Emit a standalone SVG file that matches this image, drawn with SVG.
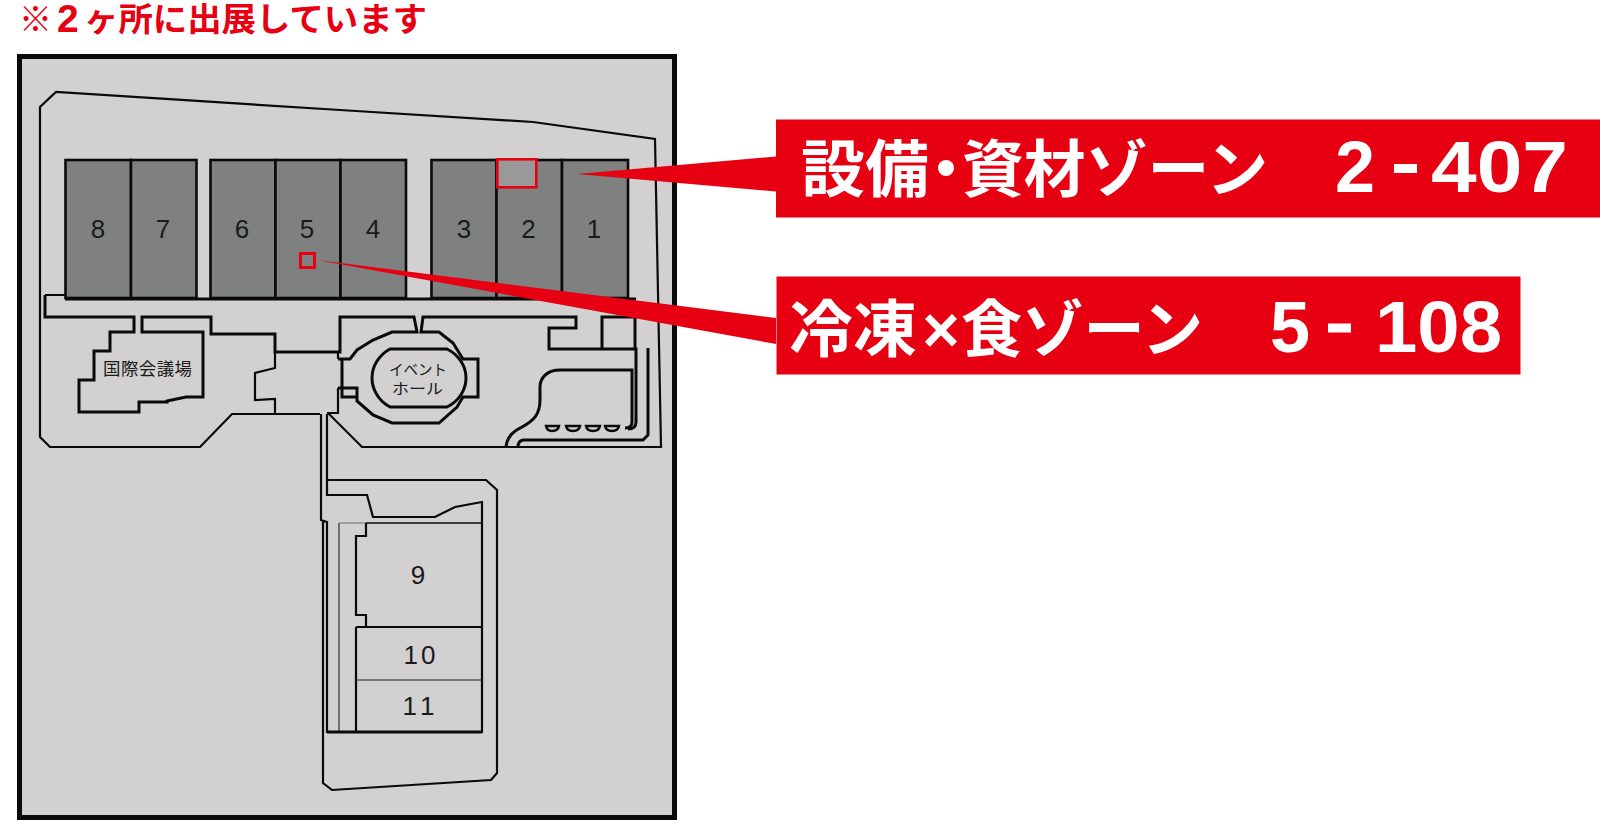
<svg xmlns="http://www.w3.org/2000/svg" width="1600" height="840" viewBox="0 0 1600 840">
<style>
.l{fill:none;stroke:#0a0a0a;stroke-width:2.2;stroke-linejoin:miter}
.t{stroke-width:1.6}
.h{stroke-width:3}
.hall{fill:#7f8180;stroke:#0a0a0a;stroke-width:2.6}
.n{font-family:"Liberation Sans",Arial,sans-serif;font-size:26px;fill:#1a1a1a;text-anchor:middle}
.j{font-family:"Noto Sans CJK JP",sans-serif;fill:#1a1a1a}
.red{fill:#e60012}
.w{font-family:"Noto Sans CJK JP",sans-serif;font-weight:700;font-size:62px;fill:#fff}
.d{font-family:"Liberation Sans",Arial,sans-serif;font-weight:700;font-size:72px;fill:#fff}
.ti{font-family:"Noto Sans CJK JP",sans-serif;font-weight:700;font-size:33px;fill:#e60012}
</style>
<rect width="1600" height="840" fill="#fff"/>
<g id="note">
<text class="ti" x="19" y="31">※</text>
<text x="57" y="32" font-family="'Liberation Sans',sans-serif" font-weight="700" font-size="39" fill="#e60012">2</text>
<text class="ti" x="84" y="31" textLength="343" lengthAdjust="spacingAndGlyphs">ヶ所に出展しています</text>
</g>
<rect id="frame" x="19.5" y="56.5" width="655" height="761" fill="#d2d0d1" stroke="#0a0a0a" stroke-width="5"/>
<g id="site">
<path class="l" d="M323 521V783L332 790L491 780L497 773V490L486 480H327M327 414V495H367L373 517H435L455 507L482 502V732H327V522L321 520V414"/>
<path class="l" d="M320 414H232L200 447H50L40 437V107L56 92L340 110L533 122L655 139L661 447H362L328 413"/>
<path class="l h" d="M45 295V317H134V332H110V351H94V380H79V412H139V402H167V401L186 397H203V332H142V317H211V334H275V352H340V317H414L417 332H392L373 340L357 350L350 359H338"/>
<path class="l" d="M338 352V359M338 388V413H327M275 352V368L255 373V400L275 399V414"/>
<path class="l h" d="M342 359V397H357M338 388H357V401L373 415L392 423H439L457 407L463 397H478V359H463L453 343L439 332H421L423 317H576V328H549V349H636V422Q636 429 628 429"/>
<path class="l h" d="M602 349V317H635V349"/>
<path class="l" d="M45 295H65M628 299H636"/>
<path class="l h" d="M506 447C507 436 514 431 522 427C533 421 540 415 540 400V387C540 377 548 370 560 370H632V422Q632 428 625 428M648 348V435L643 440H523Q518 441 518 447"/>
<path class="l h" d="M390 349H447C459 355 466 366 466 378C466 390 459 401 447 407H390C379 401 372 390 372 378C372 366 379 355 390 349Z"/>
<g fill="none" stroke="#0a0a0a" stroke-width="2.4"><path d="M546 426H559Q558 431 552 431Q547 431 546 426ZM566 426H580Q579 431 573 431Q567 431 566 426ZM586 426H600Q599 431 593 431Q587 431 586 426ZM605 426H619Q618 431 612 431Q606 431 605 426Z"/></g>
</g>
<g id="halls-1-8">
<rect class="hall" x="65.5" y="160" width="65.5" height="138"/>
<rect class="hall" x="131" y="160" width="65.5" height="138"/>
<rect class="hall" x="210.5" y="160" width="65" height="138"/>
<rect class="hall" x="275.5" y="160" width="65" height="138"/>
<rect class="hall" x="340.5" y="160" width="65.5" height="138"/>
<rect class="hall" x="431.5" y="160" width="65" height="138"/>
<rect class="hall" x="496.5" y="160" width="65.5" height="138"/>
<rect class="hall" x="562" y="160" width="66" height="138"/>
<path class="l h" d="M65 299H636"/>
</g>
<g id="halls-9-11">
<path d="M339 523H366" fill="none" stroke="#8a8a8a" stroke-width="1.4"/>
<path d="M339 523V732" fill="none" stroke="#444" stroke-width="1.4"/>
<path class="l t" d="M366 523H482"/>
<path class="l" d="M366 523V536H356V615H366V627M356 627H482M356 627V732"/>
<path d="M356 680H482" fill="none" stroke="#222" stroke-width="1"/>
<path d="M327 732H482" fill="none" stroke="#0a0a0a" stroke-width="3"/>
</g>
<g id="labels">
<text class="n" x="98" y="238">8</text><text class="n" x="163" y="238">7</text><text class="n" x="242" y="238">6</text><text class="n" x="307" y="238">5</text><text class="n" x="373" y="238">4</text><text class="n" x="464" y="238">3</text><text class="n" x="528.5" y="238">2</text><text class="n" x="594" y="238">1</text>
<text class="n" x="418" y="584">9</text>
<text class="n" x="421" y="664" letter-spacing="3">10</text>
<text class="n" x="421" y="715" letter-spacing="5">11</text>
<text class="j" x="103" y="375" font-size="17.5" textLength="89" lengthAdjust="spacing">国際会議場</text>
<text class="j" x="389" y="375" font-size="15" textLength="58" lengthAdjust="spacingAndGlyphs">イベント</text>
<text class="j" x="392" y="394" font-size="15" textLength="51" lengthAdjust="spacingAndGlyphs">ホール</text>
</g>
<g id="connectors">
<polygon class="red" points="577,174 776,156.5 776,191.5"/>
<polygon class="red" points="317,260 776,318 776,344"/>
</g>
<g id="markers">
<rect x="497.3" y="159.3" width="39" height="28" fill="#999" stroke="#e60012" stroke-width="2.6"/>
<rect x="300.5" y="253.5" width="14" height="14" fill="none" stroke="#e60012" stroke-width="3"/>
</g>
<g id="zone-1">
<rect class="red" x="776" y="119.5" width="824" height="98"/>
<text class="w" x="801" y="192" textLength="128" lengthAdjust="spacingAndGlyphs">設備</text>
<circle cx="946" cy="168" r="8" fill="#fff"/>
<text class="w" x="962" y="192" textLength="306" lengthAdjust="spacingAndGlyphs">資材ゾーン</text>
<text class="d" x="1335" y="192">2</text>
<rect x="1394" y="164" width="23" height="9" fill="#fff"/>
<text class="d" x="1431" y="192" textLength="137" lengthAdjust="spacingAndGlyphs">407</text>
</g>
<g id="zone-2">
<rect class="red" x="776.5" y="276.5" width="744" height="98"/>
<text class="w" x="789" y="352" textLength="128" lengthAdjust="spacingAndGlyphs">冷凍</text>
<text x="941" y="352" text-anchor="middle" font-family="'Liberation Sans',sans-serif" font-weight="700" font-size="64" fill="#fff">×</text>
<text class="w" x="961" y="352" textLength="242" lengthAdjust="spacingAndGlyphs">食ゾーン</text>
<text class="d" x="1270" y="352">5</text>
<rect x="1328" y="323.5" width="23" height="9" fill="#fff"/>
<text class="d" x="1375" y="352" textLength="127" lengthAdjust="spacingAndGlyphs">108</text>
</g>
</svg>
